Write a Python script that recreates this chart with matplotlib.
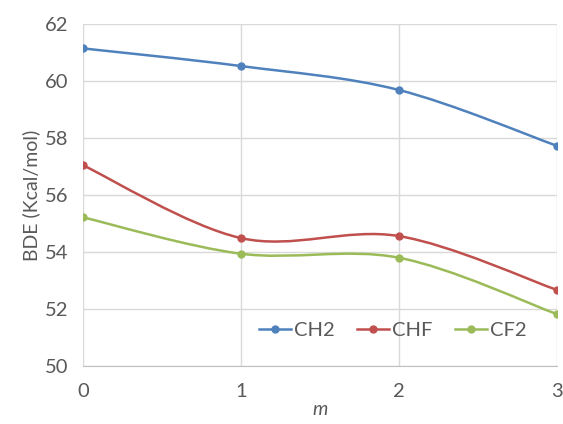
import matplotlib
matplotlib.use('Agg')
import matplotlib.pyplot as plt
from matplotlib.path import Path
from matplotlib.patches import PathPatch
from matplotlib.lines import Line2D

m = [0, 1, 2, 3]
ch2 = [61.15, 60.53, 59.69, 57.73]
chf = [57.05, 54.49, 54.56, 52.67]
cf2 = [55.22, 53.94, 53.80, 51.82]
names = ['CH2', 'CHF', 'CF2']
colors = ['#4F81BD', '#C0504D', '#9BBB59']

plt.rcParams['font.family'] = ['Lato', 'DejaVu Sans']


def smooth_path(xs, ys):
    # bezier segments through the points (like Excel smoothed lines)
    pts = list(zip(xs, ys))
    verts = [pts[0]]
    codes = [Path.MOVETO]
    n = len(pts)
    for i in range(n - 1):
        p0 = pts[i - 1] if i > 0 else pts[i]
        p1 = pts[i]
        p2 = pts[i + 1]
        p3 = pts[i + 2] if i + 2 < n else pts[i + 1]
        c1 = (p1[0] + (p2[0] - p0[0]) / 6, p1[1] + (p2[1] - p0[1]) / 6)
        c2 = (p2[0] - (p3[0] - p1[0]) / 6, p2[1] - (p3[1] - p1[1]) / 6)
        verts += [c1, c2, p2]
        codes += [Path.CURVE4] * 3
    return Path(verts, codes)


fig = plt.figure(figsize=(5.63, 4.24), dpi=100)
ax = fig.add_axes([0.147, 0.137, 0.842, 0.806])

handles = []
for ys, name, c in zip([ch2, chf, cf2], names, colors):
    ax.add_patch(PathPatch(smooth_path(m, ys), facecolor='none', edgecolor=c, lw=1.8, zorder=3))
    ax.plot(m, ys, 'o', color=c, ms=5, zorder=4)
    handles.append(Line2D([], [], color=c, lw=1.8, marker='o', ms=5))

ax.set_xlim(0, 3)
ax.set_ylim(50, 62)
ax.set_xticks([0, 1, 2, 3])
ax.set_yticks(range(50, 63, 2))
ax.grid(True, color='#D9D9D9', lw=1)
ax.set_axisbelow(True)
for s in ax.spines.values():
    s.set_visible(False)
ax.spines['bottom'].set_visible(True)
ax.spines['bottom'].set_color('#BFBFBF')
ax.tick_params(length=0, labelsize=14.5, labelcolor='#595959', pad=12)
ax.tick_params(axis='y', pad=10)
ax.set_ylabel('BDE (Kcal/mol)', fontsize=14, color='#595959', labelpad=4)
ax.set_xlabel('m', fontsize=14, color='#595959', style='italic', labelpad=1)

ax.legend(handles, names, loc='lower right', ncol=3, frameon=False, fontsize=14.5,
          labelcolor='#595959', handlelength=1.6, handletextpad=0.15, columnspacing=1.1,
          bbox_to_anchor=(0.975, 0.025))

fig.savefig('out.png', dpi=100)
